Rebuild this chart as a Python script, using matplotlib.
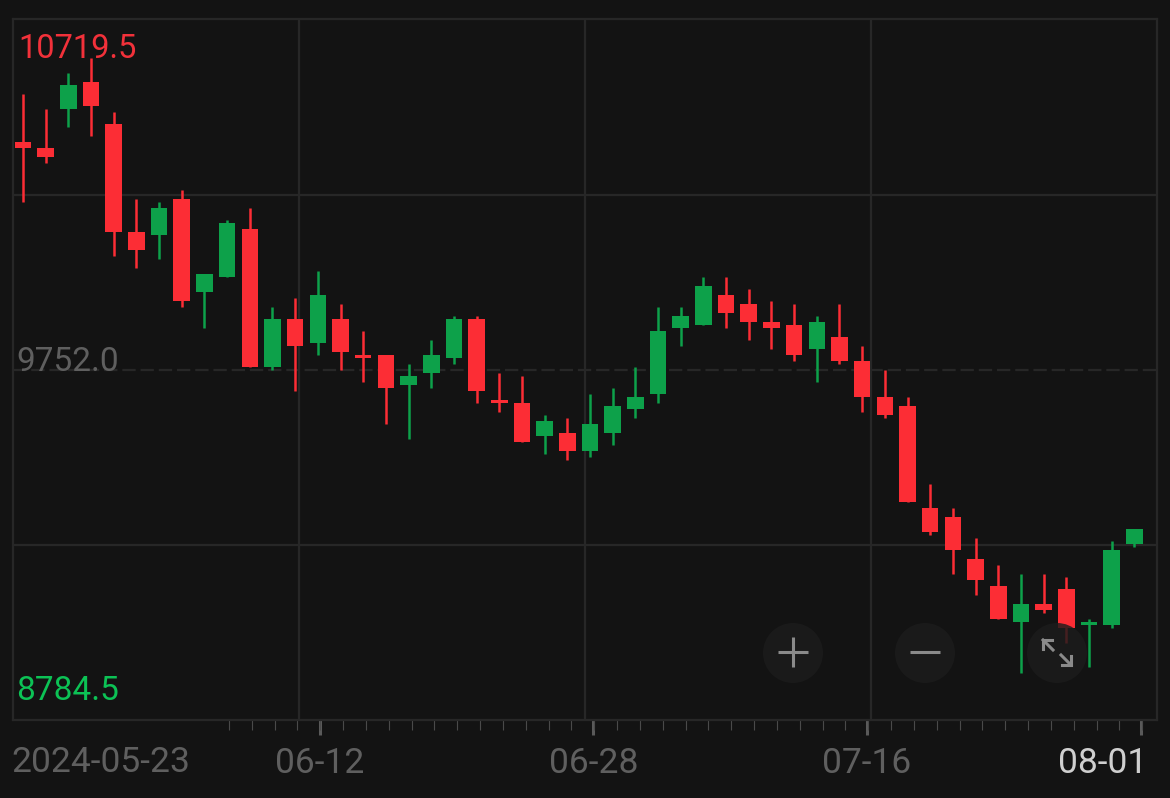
import matplotlib
matplotlib.use('Agg')
import numpy as np
from matplotlib import pyplot as plt
from matplotlib.patches import Circle
from matplotlib.transforms import ScaledTranslation

plt.rcParams['font.family'] = ['Roboto', 'DejaVu Sans']

# daily candles, green = close above open
opens = [10381.7, 10365.2, 10472.9, 10547.5, 10431.5, 10133.2, 10124.9, 10224.3, 9967.4, 10008.9,
         10141.4, 9760.3, 9892.9, 9826.6, 9892.9, 9793.4, 9793.4, 9710.6, 9743.7, 9785.1,
         9892.9, 9669.1, 9660.9, 9569.7, 9578.0, 9528.3, 9578.0, 9644.3, 9685.7, 9868.0,
         9876.3, 9959.2, 9934.3, 9884.6, 9876.3, 9810.0, 9843.1, 9776.9, 9677.4, 9652.6,
         9370.8, 9346.0, 9230.0, 9155.4, 9056.0, 9105.7, 9147.1, 9047.7, 9047.7, 9271.4]
highs = [10514.3, 10472.9, 10572.3, 10613.7, 10464.6, 10224.3, 10216.0, 10249.2, 10017.2, 10166.3,
         10199.4, 9926.0, 9950.9, 10025.4, 9934.3, 9859.7, 9793.4, 9768.6, 9834.9, 9901.1,
         9901.1, 9743.7, 9735.4, 9627.7, 9619.4, 9685.7, 9702.3, 9760.3, 9926.0, 9926.0,
         10008.9, 10008.9, 9975.7, 9942.6, 9934.3, 9901.1, 9934.3, 9818.3, 9752.0, 9677.4,
         9437.1, 9370.8, 9288.0, 9213.4, 9188.6, 9188.6, 9180.3, 9064.3, 9279.7, 9312.9]
lows = [10216.0, 10323.7, 10423.2, 10398.3, 10066.9, 10033.7, 10058.6, 9926.0, 9868.0, 10008.9,
        9760.3, 9752.0, 9694.0, 9793.4, 9752.0, 9718.9, 9602.9, 9561.4, 9702.3, 9768.6,
        9660.9, 9636.0, 9553.1, 9520.0, 9503.4, 9511.7, 9544.9, 9619.4, 9660.9, 9818.3,
        9876.3, 9868.0, 9834.9, 9810.0, 9776.9, 9718.9, 9768.6, 9636.0, 9619.4, 9387.4,
        9296.3, 9188.6, 9130.6, 9064.3, 8915.1, 9080.8, 8998.0, 8931.7, 9039.4, 9263.1]
closes = [10365.2, 10340.3, 10539.2, 10481.2, 10133.2, 10083.4, 10199.4, 9942.6, 10017.2, 10158.0,
          9760.3, 9892.9, 9818.3, 9959.2, 9801.7, 9785.1, 9702.3, 9735.4, 9793.4, 9892.9,
          9694.0, 9660.9, 9553.1, 9611.1, 9528.3, 9602.9, 9652.6, 9677.4, 9859.7, 9901.1,
          9984.0, 9909.4, 9884.6, 9868.0, 9793.4, 9884.6, 9776.9, 9677.4, 9627.7, 9387.4,
          9304.6, 9254.8, 9172.0, 9064.3, 9105.7, 9089.1, 9039.4, 9056.0, 9254.8, 9312.9]

price_top = 10719.5
price_mid = 9752.0
price_low = 8784.5

date_first = '2024-05-23'
date_labels = ['06-12', '06-28', '07-16', '08-01']
date_ticks = [13.1, 25.15, 37.2, 49.3]
small_ticks = [9.08 + 1.0067 * k for k in range(41)]
grid_days = [12.17, 24.78, 37.39]

BG = '#131313'
LINE = '#272727'
RED = '#FC2D35'
GREEN = '#0DA14A'
W, H = 1170, 798

fig = plt.figure(figsize=(W / 100, H / 100), dpi=100, facecolor=BG)
ax = fig.add_axes([13 / W, 1 - 720.4 / H, (1157 - 13) / W, (720.4 - 19.4) / H], facecolor=BG)

ax.set_xlim(-0.441, 50.0)
ax.set_ylim(price_low, price_top)

for s in ax.spines.values():
    s.set_color(LINE)
    s.set_linewidth(1.6)

# grid
for d in grid_days:
    ax.axvline(d, color=LINE, lw=1.6, zorder=1)
step = (price_top - price_low) / 4
ax.axhline(price_top - step, color=LINE, lw=1.6, zorder=1)
ax.axhline(price_low + step, color=LINE, lw=1.6, zorder=1)
ax.axhline(price_mid, color=LINE, lw=1.6, zorder=1, dashes=(6.0, 2.2))

# candles
days = np.arange(len(opens))
colors = [GREEN if c >= o else RED for o, c in zip(opens, closes)]
ax.vlines(days, lows, highs, colors=colors, lw=1.8, zorder=3)
ax.bar(days, np.abs(np.array(closes) - np.array(opens)), bottom=np.minimum(opens, closes),
       width=0.73, color=colors, zorder=3, linewidth=0)

# price labels sit inside the plot
fig.text(18 / W, 1 - 49 / H, '10719.5', color='#F2313A', fontsize=23.5, va='center', ha='left', zorder=5)
fig.text(16 / W, 1 - 362 / H, '9752.0', color='#5F5F5F', fontsize=24, va='center', ha='left', zorder=5)
fig.text(16 / W, 1 - 691 / H, '8784.5', color='#0CC255', fontsize=24, va='center', ha='left', zorder=5)

# time axis
ax.set_yticks([])
ax.set_xticks(date_ticks, date_labels)
ax.set_xticks(small_ticks, minor=True)
ax.tick_params(axis='x', which='major', length=11, width=2.2, color='#5A5A5A',
               labelcolor='#5F5F5F', labelsize=25.5, pad=8)
ax.tick_params(axis='x', which='minor', length=7, width=0.8, color='#4A4A4A')
last = ax.get_xticklabels()[-1]
last.set_color('#CFCFCF')
last.set_horizontalalignment('right')
last.set_transform(last.get_transform() + ScaledTranslation(0.06, 0, fig.dpi_scale_trans))
fig.text(11 / W, 1 - 763 / H, date_first, color='#5F5F5F', fontsize=25.5, va='center', ha='left')

# zoom buttons on top, drawn in pixels
ui = fig.add_axes([0, 0, 1, 1], facecolor='none')
ui.set_xlim(0, W)
ui.set_ylim(H, 0)
ui.axis('off')
for cx in [793, 925, 1057]:
    ui.add_patch(Circle((cx, 653), 30, color='#1C1C1C', alpha=0.82, lw=0))
btn = '#8A8A8A'
ui.plot([778, 808], [652, 652], color=btn, lw=2.2, solid_capstyle='butt')
ui.plot([793, 793], [637, 667], color=btn, lw=2.2, solid_capstyle='butt')
ui.plot([910, 940], [652, 652], color=btn, lw=2.2, solid_capstyle='butt')
ui.plot([1043, 1053], [640, 650], color=btn, lw=2.2)
ui.plot([1061, 1071], [655, 665], color=btn, lw=2.2)
ui.plot([1043, 1043, 1052], [649, 640, 640], color=btn, lw=2.2, solid_joinstyle='miter')
ui.plot([1062, 1071, 1071], [665, 665, 656], color=btn, lw=2.2, solid_joinstyle='miter')

fig.savefig('out.png', dpi=100, facecolor=BG)
